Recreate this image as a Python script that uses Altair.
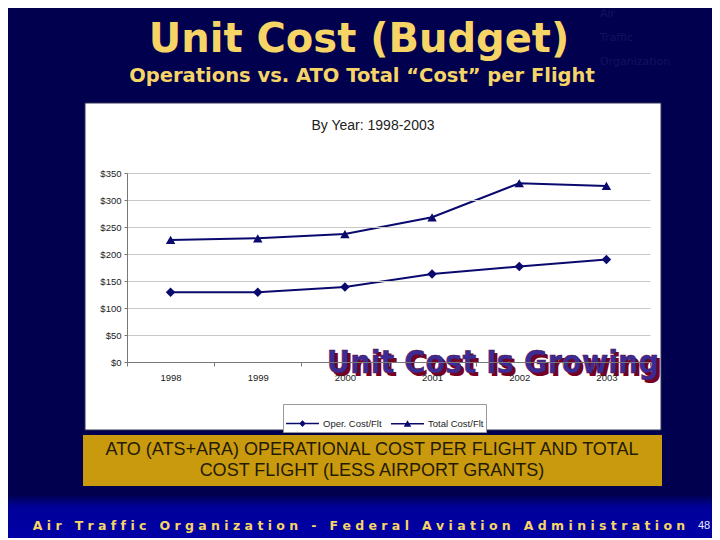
import altair as alt
import pandas as pd

# ---------------- data ----------------
years = ["1998", "1999", "2000", "2001", "2002", "2003"]
oper_cost = [129, 129, 139, 163, 177, 190]
total_cost = [226, 229, 237, 268, 331, 326]
series_names = ["Oper. Cost/Flt", "Total Cost/Flt"]
y_tick_values = [0, 50, 100, 150, 200, 250, 300, 350]

slide_title = "Unit Cost (Budget)"
slide_subtitle = "Operations vs. ATO Total \u201cCost\u201d per Flight"
chart_title = "By Year: 1998-2003"
banner = "Unit Cost Is Growing"
caption_lines = ["ATO (ATS+ARA) OPERATIONAL COST PER FLIGHT AND TOTAL",
                 "COST FLIGHT (LESS AIRPORT GRANTS)"]
footer_words = ["Air", "Traffic", "Organization", "-", "Federal", "Aviation", "Administration"]
page_number = "48"
watermark_words = ["Air", "Traffic", "Organization"]

df = pd.DataFrame({
    "year": years * 2,
    "series": [series_names[0]] * len(years) + [series_names[1]] * len(years),
    "cost": oper_cost + total_cost,
})

# ---------------- styling ----------------
BG = "#00004e"
NAVY = "#0a0a6e"
YELLOW = "#f6d566"
GOLD = "#c99a0e"
ARIAL = "Liberation Sans"

W, H = 523, 189  # plot area

one = pd.DataFrame({"k": [0]})


def box(x, x2, y, y2, fill, stroke=None):
    kw = {}
    if stroke:
        kw = {"stroke": stroke, "strokeWidth": 1}
    return alt.Chart(one).mark_rect(color=fill, **kw).encode(
        x=alt.value(x), x2=alt.value(x2), y=alt.value(y), y2=alt.value(y2))


def label(txt, x, y, size, color, font=ARIAL, weight="normal", align="center", baseline="middle"):
    return alt.Chart(one).mark_text(
        text=txt, fontSize=size, color=color, font=font, fontWeight=weight,
        align=align, baseline=baseline).encode(x=alt.value(x), y=alt.value(y))


footer_text = "\u00a0\u00a0\u00a0".join("\u00a0".join(list(w)) for w in footer_words)

# decorations (pixel positions relative to plot origin)
footer_bar = alt.Chart(one).mark_rect(
    color=alt.Gradient(gradient="linear", x1=0, x2=0, y1=0, y2=1,
                       stops=[alt.GradientStop(color=BG, offset=0),
                              alt.GradientStop(color="#00009a", offset=0.25),
                              alt.GradientStop(color="#0000a8", offset=1)])
).encode(x=alt.value(-140), x2=alt.value(610), y=alt.value(322), y2=alt.value(370))

white_box = box(-42, 534, -70, 257, "white", "#333355")
gold_box = box(-44, 535, 262, 313, GOLD)

texts = [
    label(slide_title, 232, -133, 40, YELLOW, font="DejaVu Sans", weight="bold"),
    label(slide_subtitle, 235, -97, 19.5, YELLOW, font="DejaVu Sans", weight="bold"),
    label(chart_title, 246, -47, 14, "#222222"),
    label(caption_lines[0], 245, 277, 18, "#241a05"),
    label(caption_lines[1], 245, 298, 18, "#241a05"),
    label(footer_text, 232, 353, 12.5, YELLOW, font="DejaVu Sans", weight="bold"),
    label(page_number, 577, 353, 11, "#e8e8ff"),
]
for i, w in enumerate(watermark_words):
    texts.append(label(w, 473, -159 + 24 * i, 11, "#12125e", font="DejaVu Sans", align="left"))

# ---------------- chart ----------------
x_enc = alt.X("year:O", sort=years,
              scale=alt.Scale(type="band", paddingInner=0, paddingOuter=0),
              axis=alt.Axis(title=None, labelAngle=0, tickBand="extent", grid=False, zindex=1,
                            domainColor="#777777", tickColor="#777777", tickSize=4,
                            labelPadding=6, labelFont=ARIAL, labelFontSize=9.5,
                            labelColor="#222222"))
y_enc = alt.Y("cost:Q", scale=alt.Scale(domain=[0, 350]),
              axis=alt.Axis(title=None, values=y_tick_values, labelExpr="'$' + datum.value",
                            grid=True, gridColor="#c8c8c8", domainColor="#777777", zindex=1,
                            tickColor="#777777", tickSize=3, labelPadding=3,
                            labelFont=ARIAL, labelFontSize=9.5, labelColor="#222222"))

base = alt.Chart(df)
lines = base.mark_line(color=NAVY, strokeWidth=2).encode(x=x_enc, y=y_enc, detail="series:N")
points = base.mark_point(filled=True, color=NAVY, size=90, opacity=1).encode(
    x=x_enc, y=y_enc,
    shape=alt.Shape("series:N", scale=alt.Scale(domain=series_names, range=["diamond", "triangle-up"]),
                    legend=None))

legend_paths = [
    "M-1,-0.045H1V0.045H-1ZM0,-0.2L0.2,0L0,0.2L-0.2,0Z",
    "M-1,-0.045H1V0.045H-1ZM0,-0.22L0.23,0.17L-0.23,0.17Z",
]
legend_layer = base.mark_point(filled=True, color=NAVY, size=1089, clip=True, opacity=1).encode(
    x=x_enc, y=alt.value(-2000),
    shape=alt.Shape("series:N", scale=alt.Scale(domain=series_names, range=legend_paths),
                    legend=alt.Legend(title=None, orient="none", legendX=156, legendY=231,
                                      direction="horizontal", strokeColor="#999999",
                                      fillColor="white", padding=2, symbolSize=1089,
                                      symbolFillColor=NAVY, labelFont=ARIAL,
                                      labelFontSize=9.5, labelColor="#222222",
                                      labelOffset=3, columnPadding=6)))

WA_FONT = "Liberation Sans Narrow, DejaVu Sans Condensed, sans-serif"
shadow = label(banner, 369, 203, 32, "#7a0020", font=WA_FONT, weight="bold", baseline="alphabetic")
word_art = alt.Chart(one).mark_text(
    text=banner, fontSize=32, color="#3b2b94", stroke="#5a1040", strokeWidth=0.5,
    font=WA_FONT, fontWeight="bold",
    align="center", baseline="alphabetic").encode(x=alt.value(366), y=alt.value(200))

chart = alt.layer(
    footer_bar, white_box, gold_box, *texts, lines, points, legend_layer, shadow, word_art
).resolve_scale(shape="independent").properties(
    width=W, height=H,
    padding={"left": 119, "top": 165, "right": 62, "bottom": 176},
    autosize=alt.AutoSizeParams(type="none"),
    background=BG,
).configure_view(stroke="#888888", fill="white")

chart.save("out.html", embed_options={"renderer": "svg", "actions": False})
